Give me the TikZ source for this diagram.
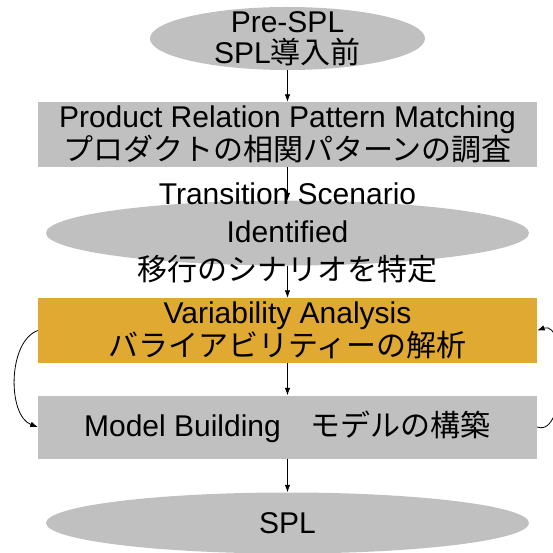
\documentclass[tikz,border=0pt]{standalone}
\usepackage{fontspec}
\setmainfont{Liberation Sans}
\newfontfamily\jp{Noto Sans CJK JP}
\usetikzlibrary{shapes,arrows.meta}
\definecolor{stepgray}{RGB}{192,192,192}
\definecolor{steporange}{RGB}{224,169,50}
\tikzstyle{oval}=[ellipse,
                  draw=none,
                  fill=stepgray,
                  inner sep=0pt]
\tikzstyle{block}=[rectangle, fill=stepgray, minimum width=499pt,
minimum height=65pt, inner sep=0pt, align=center]
\tikzstyle{txt}=[inner sep=0pt, align=center]
\tikzstyle{line}=[draw, line width=0.8pt, -{Latex[length=7.5pt,width=5.5pt]}]

\begin{document}
\begin{tikzpicture}[font=\fontsize{30}{30.5}\selectfont]
      % fixed page size of the reference
      \useasboundingbox (0pt,0pt) rectangle (552pt,-553pt);

      \node [oval, minimum width=275pt, minimum height=63pt] (pre) at (287.5pt,-38.5pt) {};
      \node [txt] (pretext) at (pre) {Pre-SPL\\SPL{\jp 導入前}};

      \node [block, below of=pre, node distance=96pt] (prod)
        {Product Relation Pattern Matching\\{\jp プロダクトの相関パターンの調査}};

      \node [oval, minimum width=483pt, minimum height=65pt, below of=prod, node distance=98.5pt] (scen) {};
      \node [txt, font=\fontsize{30}{38}\selectfont] (scentext) at (scen)
        {Transition Scenario\\Identified\\{\jp 移行のシナリオを特定}};

      \node [block, fill=steporange, below of=scen, node distance=97.5pt] (var)
        {Variability Analysis\\{\jp バライアビリティーの解析}};

      \node [block, minimum height=63pt, below of=var, node distance=96.5pt] (model)
        {Model Building{\jp 　モデルの構築}};

      \node [oval, minimum width=483pt, minimum height=61pt, below of=model, node distance=96pt] (spl) {};
      \node [txt] (spltext) at (spl) {SPL};

      \path [line] (pre) -- (prod);
      \path [line] (prod) -- (scen);
      \path [line] (scen) -- (var);
      \path [line] (var) -- (model);
      \path [line] (model) -- (spl);
      % feedback loop between analysis and model
      \path [line] (var.west) to[out=200, in=160, looseness=0.86] (model.west);
      \path [line] (model.east) to[out=-20, in=20, looseness=0.86] (var.east);
\end{tikzpicture}
\end{document}
